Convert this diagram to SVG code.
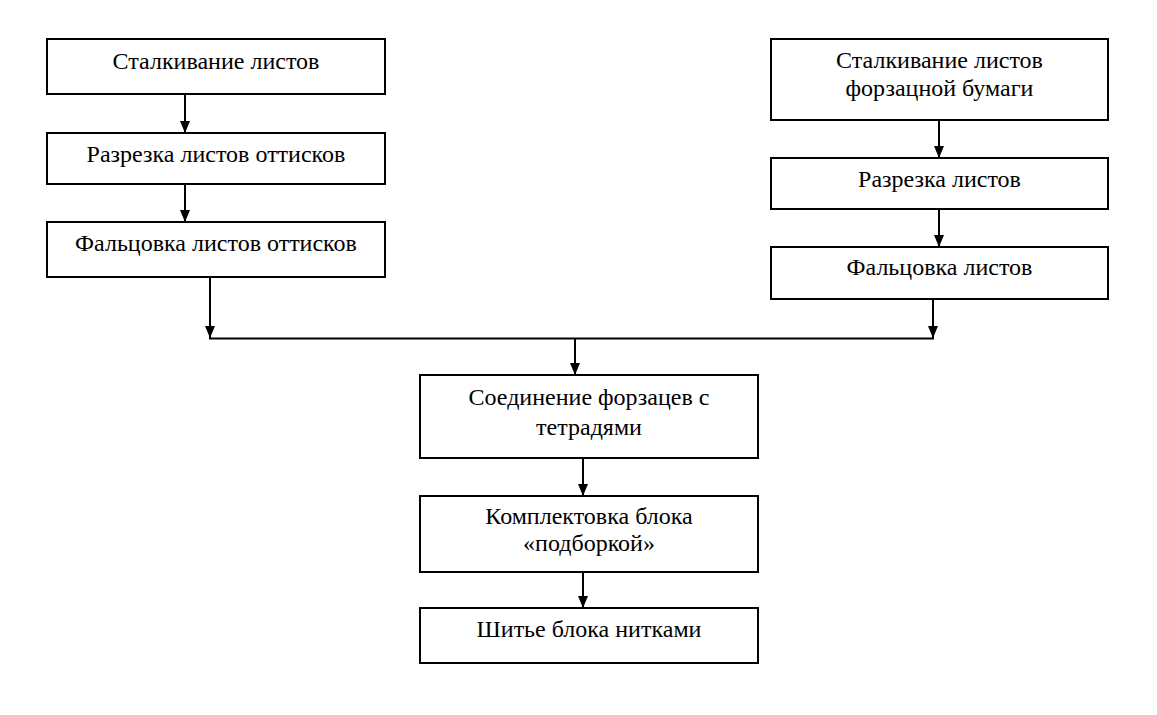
<svg xmlns="http://www.w3.org/2000/svg" width="1157" height="715" viewBox="0 0 1157 715">
<style>
.box{fill:#fff;stroke:#000;stroke-width:2}
text{font-family:'Liberation Serif','DejaVu Serif',serif;font-size:24px;fill:#000;text-anchor:middle}
.c{stroke:#000;stroke-width:2;fill:none}
</style>
<defs>
<marker id="arr" markerWidth="12" markerHeight="10" refX="12" refY="5" orient="auto" markerUnits="userSpaceOnUse" viewBox="0 0 12 10">
<path d="M0,0 L12,5 L0,10 Z" fill="#000"/>
</marker>
</defs>
<rect width="1157" height="715" fill="#fff"/>
<g id="connectors">
<line class="c" x1="185" y1="95" x2="185" y2="133" marker-end="url(#arr)"/>
<line class="c" x1="185" y1="185" x2="185" y2="222" marker-end="url(#arr)"/>
<line class="c" x1="939" y1="121" x2="939" y2="158" marker-end="url(#arr)"/>
<line class="c" x1="939" y1="210" x2="939" y2="247" marker-end="url(#arr)"/>
<line class="c" x1="210" y1="277" x2="210" y2="338" marker-end="url(#arr)"/>
<line class="c" x1="933" y1="300" x2="933" y2="338" marker-end="url(#arr)"/>
<line class="c" x1="209" y1="338.5" x2="934" y2="338.5"/>
<line class="c" x1="575" y1="338" x2="575" y2="375" marker-end="url(#arr)"/>
<line class="c" x1="583" y1="459" x2="583" y2="496" marker-end="url(#arr)"/>
<line class="c" x1="583" y1="573" x2="583" y2="608" marker-end="url(#arr)"/>
</g>
<g id="n1"><rect class="box" x="47" y="39" width="338" height="55"/><text x="216" y="69">Сталкивание листов</text></g>
<g id="n2"><rect class="box" x="47" y="133" width="338" height="51"/><text x="216" y="162">Разрезка листов оттисков</text></g>
<g id="n3"><rect class="box" x="47" y="222" width="338" height="55"/><text x="216" y="251">Фальцовка листов оттисков</text></g>
<g id="n4"><rect class="box" x="771" y="39" width="337" height="81"/><text x="939.5" y="68">Сталкивание листов</text><text x="939.5" y="96">форзацной бумаги</text></g>
<g id="n5"><rect class="box" x="771" y="158" width="337" height="51"/><text x="939.5" y="187">Разрезка листов</text></g>
<g id="n6"><rect class="box" x="771" y="247" width="337" height="52"/><text x="939.5" y="275">Фальцовка листов</text></g>
<g id="n7"><rect class="box" x="420" y="375" width="338" height="83"/><text x="589" y="405">Соединение форзацев с</text><text x="589" y="435">тетрадями</text></g>
<g id="n8"><rect class="box" x="420" y="496" width="338" height="76"/><text x="589" y="524">Комплектовка блока</text><text x="589" y="551">«подборкой»</text></g>
<g id="n9"><rect class="box" x="420" y="608" width="338" height="55"/><text x="589" y="637">Шитье блока нитками</text></g>
</svg>
